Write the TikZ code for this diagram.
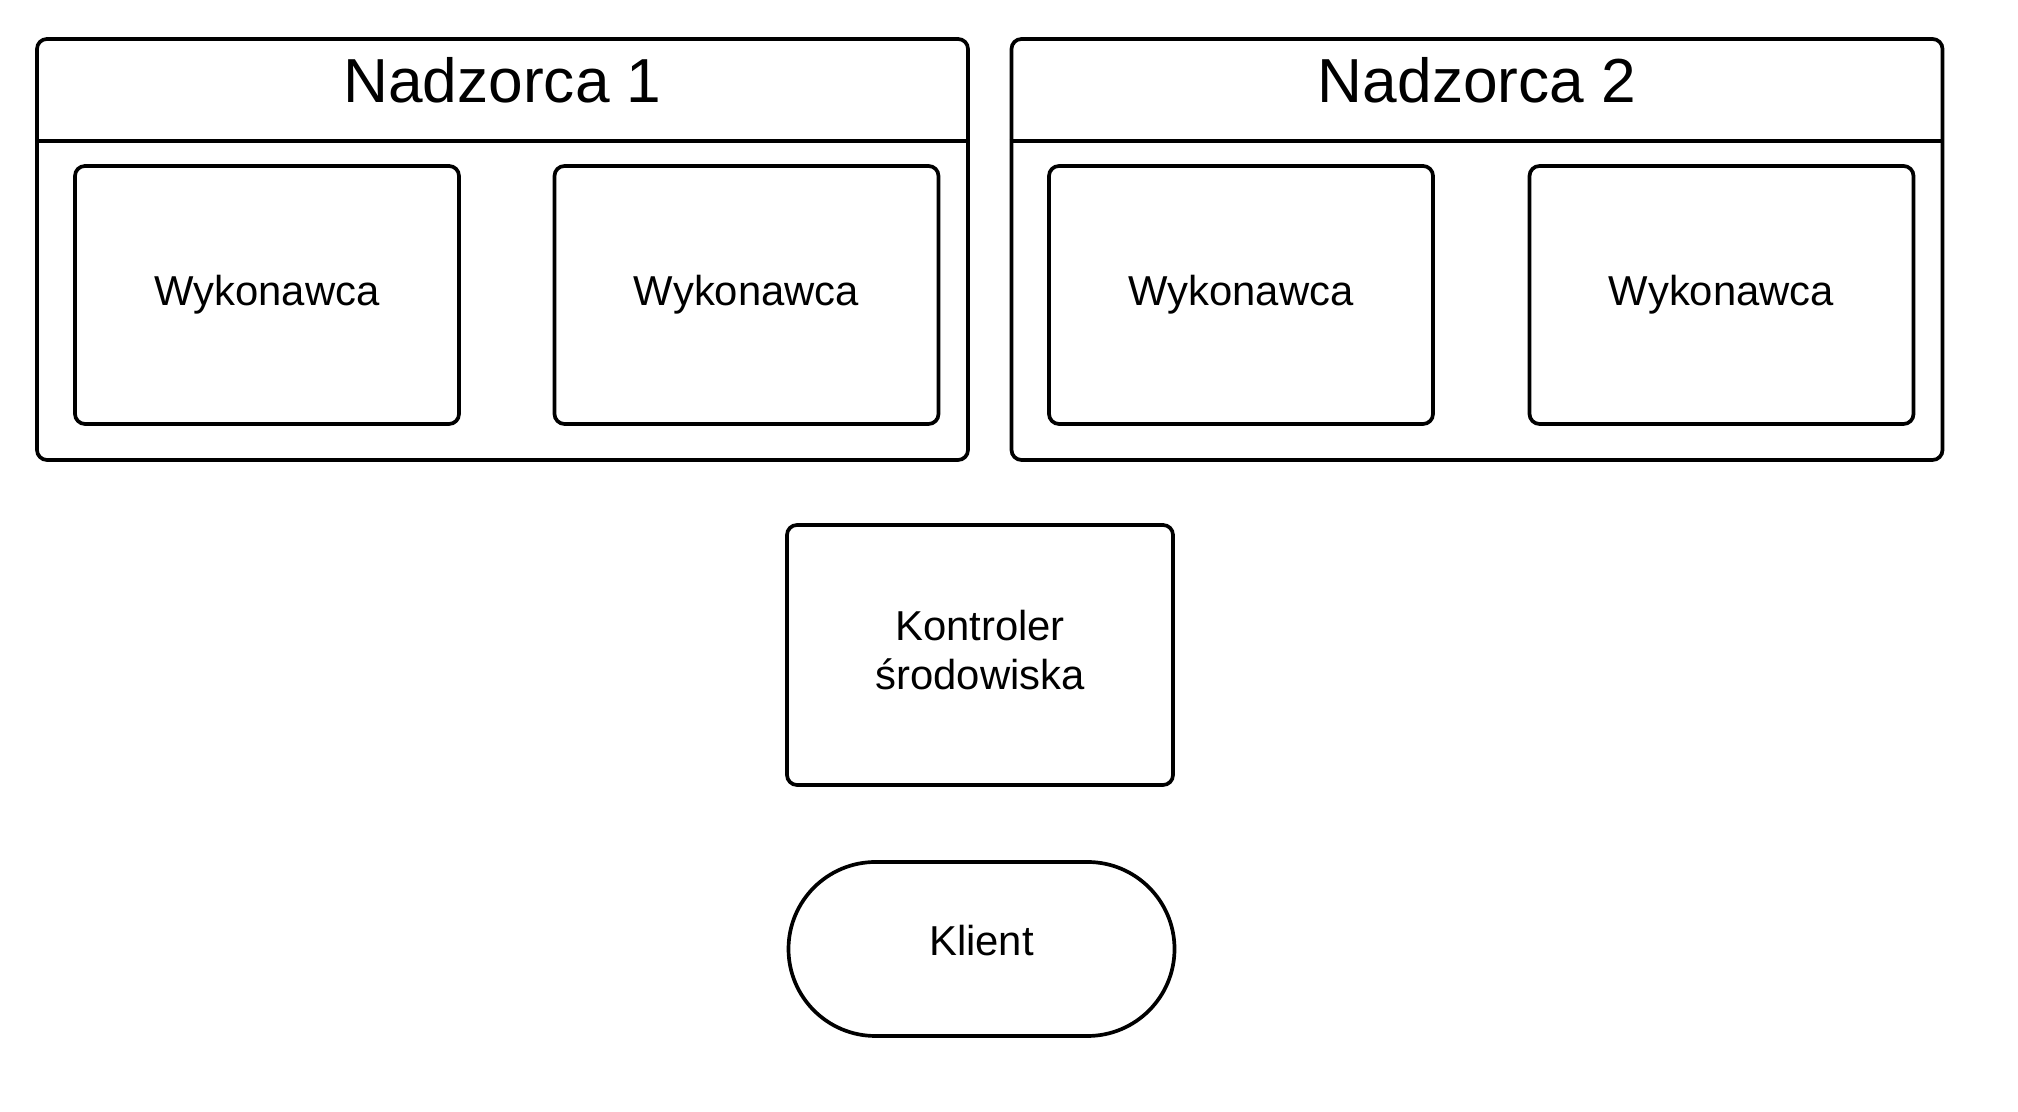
\documentclass[tikz,border=0pt]{standalone}
\usepackage{fontspec}
\setmainfont{Liberation Sans}
\begin{document}
\begin{tikzpicture}[line width=1.05pt,
    nadzorca/.style={draw, rounded corners=0.1cm, minimum width=9.31cm, minimum height=4.21cm},
    wykonawca/.style={draw, rounded corners=0.1cm, minimum width=3.84cm, minimum height=2.58cm, font=\fontsize{11.9}{14}\selectfont},
    tytul/.style={anchor=base, font=\fontsize{17.7}{20}\selectfont}]
    \useasboundingbox (0,0) rectangle (20.18,11.12);
    % nadzorcy
    \node[nadzorca] (n1) at (5.025,8.625) {};
    \node[nadzorca] (n2) at (14.77,8.625) {};
    \draw ([yshift=-1.04cm]n1.north west) -- ([yshift=-1.04cm]n1.north east);
    \draw ([yshift=-1.04cm]n2.north west) -- ([yshift=-1.04cm]n2.north east);
    \node[tytul] (t1) at (5.025,10.09) {Nadzorca 1};
    \node[tytul] (t2) at (14.77,10.09) {Nadzorca 2};
    % wykonawcy
    \node[wykonawca] (w11) at (2.67,8.17) {Wykonawca};
    \node[wykonawca] (w12) at (7.465,8.17) {Wykonawca};
    \node[wykonawca] (w21) at (12.41,8.17) {Wykonawca};
    \node[wykonawca] (w22) at (17.215,8.17) {Wykonawca};
    % kontroler i klient
    \node[wykonawca, minimum width=3.86cm, minimum height=2.60cm] (k) at (9.80,4.57) {};
    \node[align=center, font=\fontsize{11.9}{14.1}\selectfont] (kt) at (9.80,4.62)
        {Kontroler\\środowiska};
    \node[draw, rounded corners=0.87cm, minimum width=3.86cm, minimum height=1.74cm] (kl) at (9.815,1.63) {};
    \node[font=\fontsize{11.9}{14}\selectfont] (klt) at (9.815,1.71) {Klient};
\end{tikzpicture}
\end{document}
